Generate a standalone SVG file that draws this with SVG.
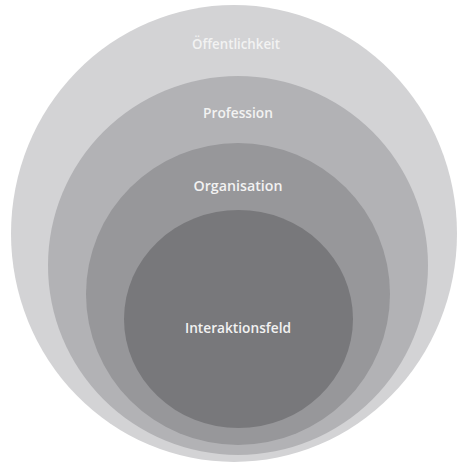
<svg xmlns="http://www.w3.org/2000/svg" width="459" height="465" viewBox="0 0 459 465">
  <style>
    .lbl { font-family: "Open Sans", "Noto Sans", "Liberation Sans", sans-serif; font-size: 14px; font-weight: 600; fill: #f2f2f2; text-anchor: middle; }
  </style>
  <rect width="459" height="465" fill="#ffffff"/>
  <g id="oeffentlichkeit">
    <ellipse cx="234" cy="233.5" rx="223" ry="228.5" fill="#d3d3d5"/>
    <text class="lbl" x="236" y="49" textLength="88" lengthAdjust="spacingAndGlyphs">Öffentlichkeit</text>
  </g>
  <g id="profession">
    <ellipse cx="238" cy="265.5" rx="190" ry="189.5" fill="#b2b2b5"/>
    <text class="lbl" x="238" y="118" textLength="70" lengthAdjust="spacingAndGlyphs">Profession</text>
  </g>
  <g id="organisation">
    <ellipse cx="238" cy="294" rx="152" ry="151" fill="#97979a"/>
    <text class="lbl" x="238" y="191" textLength="89" lengthAdjust="spacingAndGlyphs">Organisation</text>
  </g>
  <g id="interaktionsfeld">
    <ellipse cx="238.5" cy="319" rx="114.5" ry="109" fill="#78787b"/>
    <text class="lbl" x="238" y="333" textLength="106" lengthAdjust="spacingAndGlyphs">Interaktionsfeld</text>
  </g>
  <g id="connectors"/>
</svg>
